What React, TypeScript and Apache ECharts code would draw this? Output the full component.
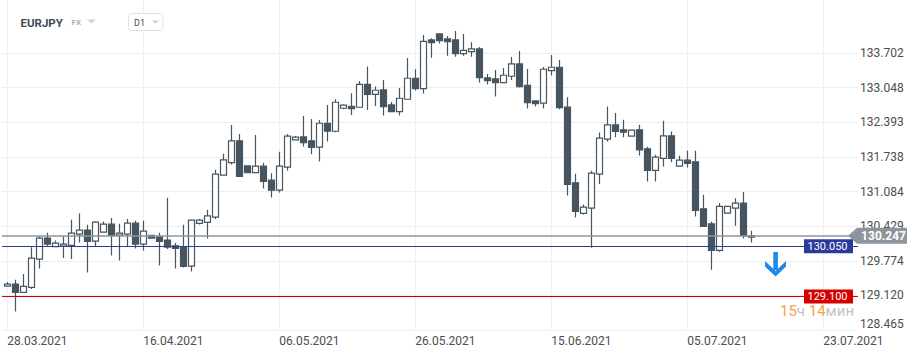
import React, { useEffect, useRef } from "react";
import * as echarts from "echarts";

// Daily EURJPY candles (index 0 = 28.03.2021)
const opens = [
  129.296, 129.334, 129.176, 129.271, 129.807, 130.204, 130.039, 130.052, 130.064, 130.279,
  130.354, 130.146, 130.316, 130.467, 130.260, 130.279, 130.486, 130.090, 130.253, 130.228,
  130.165, 130.058, 130.033, 129.674, 130.480, 130.499, 130.600, 131.393, 131.632, 132.042,
  131.569, 131.443, 131.563, 131.299, 131.110, 131.544, 132.061, 132.117, 132.042, 131.922,
  132.375, 132.224, 132.659, 132.697, 132.678, 133.112, 132.923, 133.006, 132.722, 132.596,
  132.829, 133.226, 133.031, 133.950, 134.064, 133.969, 133.950, 133.692, 133.730, 133.780,
  133.232, 133.213, 133.144, 133.264, 133.497, 133.094, 132.798, 132.754, 133.371, 133.434,
  132.679, 131.249, 130.669, 130.770, 131.413, 132.074, 132.345, 132.250, 132.131, 132.250,
  131.891, 131.482, 131.709, 132.137, 131.564, 131.677, 131.646, 130.758, 130.474, 129.970,
  130.676, 130.770, 130.865, 130.222,
];
const closes = [
  129.334, 129.176, 129.290, 129.826, 130.204, 130.090, 130.108, 130.090, 130.297, 130.354,
  130.140, 130.505, 130.467, 130.253, 130.297, 130.486, 130.090, 130.335, 130.203, 130.140,
  130.033, 130.008, 129.668, 130.543, 130.543, 130.625, 131.412, 131.683, 132.042, 131.368,
  131.443, 131.563, 131.273, 131.110, 131.563, 132.130, 132.111, 132.010, 131.916, 132.375,
  132.224, 132.772, 132.716, 132.653, 133.112, 132.923, 132.999, 132.691, 132.596, 132.848,
  133.226, 133.031, 133.925, 133.900, 133.938, 133.919, 133.692, 133.755, 133.780, 133.239,
  133.182, 133.144, 133.283, 133.497, 133.069, 132.766, 132.747, 133.396, 133.434, 132.672,
  131.217, 130.707, 130.789, 131.432, 132.093, 132.345, 132.219, 132.206, 132.244, 131.872,
  131.482, 131.734, 132.137, 131.709, 131.677, 131.614, 130.726, 130.424, 129.970, 130.802,
  130.802, 130.865, 130.248, 130.247,
];
const lows = [
  129.290, 128.817, 129.164, 129.240, 129.630, 130.039, 130.039, 129.825, 129.806, 130.121,
  129.554, 130.046, 130.310, 129.876, 129.781, 130.033, 130.008, 129.970, 130.197, 129.687,
  129.995, 129.630, 129.649, 129.573, 130.461, 130.196, 130.562, 131.387, 131.595, 131.368,
  131.443, 131.431, 131.141, 130.971, 131.066, 131.481, 132.048, 131.935, 131.790, 131.651,
  132.029, 132.205, 132.640, 132.533, 132.671, 132.627, 132.703, 132.521, 132.596, 132.521,
  132.823, 132.993, 132.936, 133.616, 133.881, 133.654, 133.635, 133.654, 133.635, 133.144,
  133.106, 132.880, 133.138, 133.194, 133.050, 132.653, 132.691, 132.653, 133.276, 132.640,
  131.009, 130.594, 130.651, 130.021, 131.224, 132.030, 132.112, 132.112, 132.125, 131.765,
  131.274, 131.274, 131.558, 131.639, 131.558, 131.539, 130.613, 130.411, 129.605, 129.945,
  130.670, 130.437, 130.197, 130.122,
];
const highs = [
  129.372, 129.416, 129.523, 130.030, 130.235, 130.304, 130.159, 130.234, 130.549, 130.669,
  130.455, 130.524, 130.518, 130.581, 130.474, 130.562, 130.530, 130.530, 130.260, 130.304,
  130.965, 130.108, 130.455, 130.543, 130.562, 130.738, 131.494, 131.796, 132.344, 132.174,
  131.569, 132.155, 131.626, 131.431, 131.834, 132.174, 132.136, 132.514, 132.457, 132.438,
  132.722, 132.829, 132.734, 132.942, 133.175, 133.446, 133.068, 133.195, 132.779, 133.043,
  133.610, 133.396, 134.045, 133.982, 134.064, 134.026, 134.120, 134.064, 133.906, 133.818,
  133.308, 133.383, 133.421, 133.629, 133.742, 133.402, 132.798, 133.440, 133.667, 133.572,
  132.868, 131.419, 130.839, 131.476, 132.200, 132.691, 132.571, 132.439, 132.256, 132.345,
  131.929, 131.778, 132.420, 132.219, 131.759, 131.853, 131.853, 131.022, 130.512, 130.865,
  130.808, 130.959, 131.073, 130.342,
];

const xTickIdx = [0, 17, 34, 51, 68, 85, 102];
const xTickLabels = ["28.03.2021", "16.04.2021", "06.05.2021", "26.05.2021", "15.06.2021", "05.07.2021", "23.07.2021"];
const yTicks = [128.465, 129.12, 129.774, 130.429, 131.084, 131.738, 132.393, 133.048, 133.702];

const symbolName = "EURJPY";
const marketName = "FX";
const timeframe = "D1";
const currentPrice = 130.247;
const levelBlue = 130.05;
const levelRed = 129.1;
const countdownH = "15";
const countdownM = "14";

const CANDLE = "#46555f";
const FONT = "Roboto, 'Noto Sans', sans-serif";

export default function App() {
  const ref = useRef<HTMLDivElement>(null);

  useEffect(() => {
    const chart = echarts.init(ref.current!, null, { renderer: "svg" });
    const data = opens.map((o, i) => [i, o, closes[i], lows[i], highs[i]]);

    chart.setOption({
      animation: false,
      textStyle: { fontFamily: FONT },
      grid: { left: 2, right: 62, top: 0, bottom: 26 },
      xAxis: {
        type: "value",
        min: -0.6625,
        max: 106.34,
        axisLine: { show: false },
        axisTick: { show: false, customValues: xTickIdx },
        splitLine: { show: true, lineStyle: { color: "#f0f0f0", width: 1 } },
        axisLabel: {
          customValues: xTickIdx,
          align: "left",
          margin: 5,
          color: "#4d4d4d",
          fontSize: 12,
          fontFamily: FONT,
          formatter: (v: number) => xTickLabels[xTickIdx.indexOf(Math.round(v))] ?? "",
        },
      },
      yAxis: {
        type: "value",
        position: "right",
        min: 128.465,
        max: 134.706,
        scale: true,
        axisLine: { show: false },
        axisTick: { show: false, customValues: yTicks },
        splitLine: { show: true, lineStyle: { color: "#eeeeee", width: 1 } },
        axisLabel: {
          customValues: yTicks,
          align: "left",
          margin: 2,
          color: "#4d4d4d",
          fontSize: 12,
          fontFamily: FONT,
          verticalAlignMinLabel: "bottom",
          formatter: (v: number) => v.toFixed(3),
        },
      },
      series: [
        {
          type: "candlestick",
          data,
          barWidth: 6,
          itemStyle: {
            color: "#ffffff",
            color0: CANDLE,
            borderColor: CANDLE,
            borderColor0: CANDLE,
            borderWidth: 1.2,
          },
          markLine: {
            silent: true,
            symbol: "none",
            label: { show: false },
            data: [
              { yAxis: levelRed, lineStyle: { color: "#d40000", width: 1, type: "solid" } },
              { yAxis: levelBlue, lineStyle: { color: "#2c3a9c", width: 1, type: "solid" } },
              { yAxis: currentPrice, lineStyle: { color: "#8c959b", width: 1.5, type: "solid" } },
            ],
          },
        },
      ],
    });

    const yOf = (v: number) => chart.convertToPixel({ yAxisIndex: 0 }, v) as number;
    const yc = yOf(currentPrice);
    const yb = yOf(levelBlue);
    const yr = yOf(levelRed);

    const txt = (x: number, y: number, text: string, font: string, fill: string, align = "left") => ({
      type: "text",
      x,
      y,
      z: 100,
      style: { text, font, fill, align, verticalAlign: "middle", textAlign: align, textVerticalAlign: "middle" },
    });

    chart.setOption({
      graphic: [
        // header
        txt(20.5, 22.5, symbolName, `bold 11.5px ${FONT}`, "#3e4b56"),
        txt(71.5, 22.5, marketName, `bold 8px ${FONT}`, "#a9b2ba"),
        { type: "polygon", z: 100, shape: { points: [[87, 19.5], [96, 19.5], [91.5, 23.5]] }, style: { fill: "#cfd3d6" } },
        { type: "rect", z: 99, shape: { x: 128.5, y: 13.5, width: 34.5, height: 17, r: 3 }, style: { fill: "#ffffff", stroke: "#dfe2e5", lineWidth: 1 } },
        txt(134, 22.5, timeframe, `9px ${FONT}`, "#4a4a4a"),
        { type: "polygon", z: 100, shape: { points: [[152, 20.5], [159, 20.5], [155.5, 23.5]] }, style: { fill: "#c8cdd1" } },

        // current price tag
        {
          type: "polygon",
          z: 100,
          shape: { points: [[848, yc], [857, yc - 8], [907, yc - 8], [907, yc + 8], [857, yc + 8]] },
          style: { fill: "#8c959b" },
        },
        txt(883.5, yc + 0.5, currentPrice.toFixed(3), `bold 12px ${FONT}`, "#ffffff", "center"),

        // blue level tag
        { type: "rect", z: 100, shape: { x: 804, y: yb - 7, width: 49, height: 14 }, style: { fill: "#2c3a9c" } },
        txt(827.5, yb + 0.5, levelBlue.toFixed(3), `11px ${FONT}`, "#ffffff", "center"),

        // red level tag
        { type: "rect", z: 100, shape: { x: 804, y: yr - 7, width: 49, height: 14 }, style: { fill: "#d40000" } },
        txt(827.5, yr + 0.5, levelRed.toFixed(3), `11px ${FONT}`, "#ffffff", "center"),

        // down arrow
        { type: "rect", z: 100, shape: { x: 773.3, y: 252, width: 4.6, height: 18 }, style: { fill: "#1d8be6" } },
        {
          type: "polygon",
          z: 100,
          shape: { points: [[765, 261], [775.6, 271], [786, 261], [786, 266.5], [775.6, 276.5], [765, 266.5]] },
          style: { fill: "#1d8be6" },
        },

        // countdown
        {
          type: "text",
          x: 780,
          y: 311,
          z: 100,
          style: {
            text: `{o|${countdownH}}{g|ч} {o|${countdownM}}{g|мин}`,
            verticalAlign: "middle",
            textVerticalAlign: "middle",
            font: `15px ${FONT}`,
            rich: {
              o: { fill: "#f5a33c", color: "#f5a33c", fontSize: 15, fontFamily: FONT },
              g: { fill: "#bfc3c7", color: "#bfc3c7", fontSize: 15, fontFamily: FONT },
            },
          },
        },
      ],
    });

    return () => chart.dispose();
  }, []);

  return <div ref={ref} style={{ position: "fixed", left: 0, top: 0, width: 920, height: 356, background: "#ffffff" }} />;
}
